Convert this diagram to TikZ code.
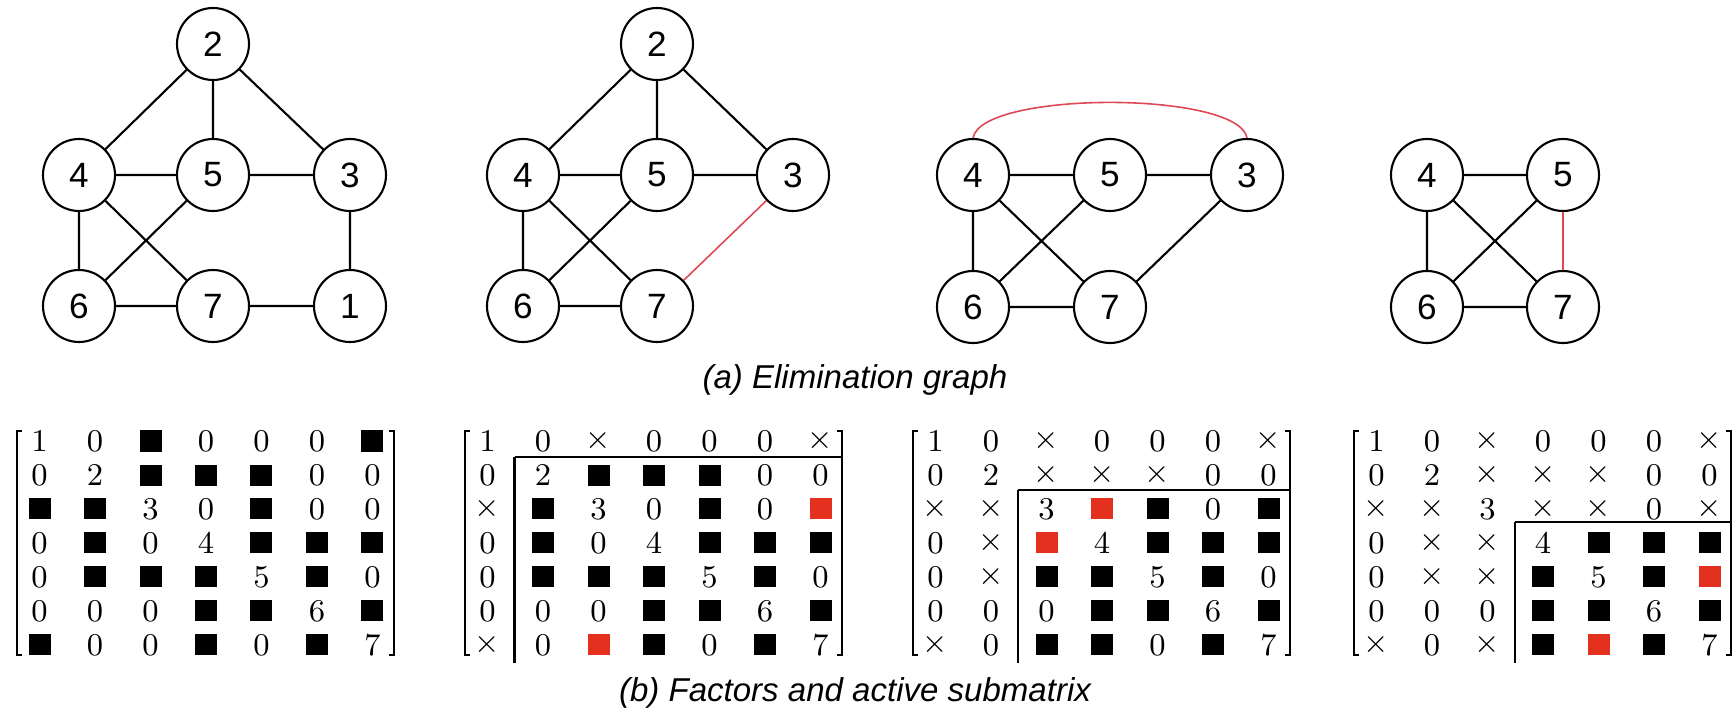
\documentclass[tikz,border=0pt]{standalone}
\usepackage{fontspec}
\setsansfont{Liberation Sans}
\usetikzlibrary{matrix}

\definecolor{fillred}{RGB}{228,48,30}
\definecolor{edgered}{RGB}{222,72,84}
\newcommand{\nzsq}{\rule{0.22cm}{0.21cm}}
\newcommand{\fisq}{\textcolor{fillred}{\rule{0.22cm}{0.21cm}}}
\newcommand{\elx}{$\times$}

\begin{document}
\begin{tikzpicture}[
	vertex/.style={circle, draw, line width=0.6pt, minimum size=0.72cm, inner sep=0pt, font=\sffamily\fontsize{10}{12}\selectfont},
	link/.style={line width=0.6pt},
	fillin/.style={edgered, line width=0.45pt},
	spmat/.style={matrix of nodes, inner sep=0pt, column sep=0.055cm, row sep=0.04cm,
		nodes={anchor=center, minimum width=0.5cm, minimum height=0.3cm, inner sep=0pt, font=\fontsize{9}{10}\selectfont}},
	captext/.style={font=\sffamily\itshape\fontsize{9.4}{11}\selectfont}]
	\useasboundingbox (0,0) rectangle (17.34,7.10);

	% first graph
	\node[vertex] (a2) at (2.13,6.66) {2};
	\node[vertex] (a4) at (0.79,5.35) {4};
	\node[vertex] (a5) at (2.13,5.35) {5};
	\node[vertex] (a3) at (3.50,5.35) {3};
	\node[vertex] (a6) at (0.79,4.04) {6};
	\node[vertex] (a7) at (2.13,4.04) {7};
	\node[vertex] (a1) at (3.50,4.04) {1};
	\draw[link] (a2) -- (a4) (a2) -- (a5) (a2) -- (a3) (a4) -- (a5) (a5) -- (a3)
		(a4) -- (a6) (a4) -- (a7) (a5) -- (a6) (a6) -- (a7) (a7) -- (a1) (a3) -- (a1);

	% node 1 eliminated
	\node[vertex] (b2) at (6.57,6.66) {2};
	\node[vertex] (b4) at (5.23,5.35) {4};
	\node[vertex] (b5) at (6.57,5.35) {5};
	\node[vertex] (b3) at (7.93,5.35) {3};
	\node[vertex] (b6) at (5.23,4.04) {6};
	\node[vertex] (b7) at (6.57,4.04) {7};
	\draw[link] (b2) -- (b4) (b2) -- (b5) (b2) -- (b3) (b4) -- (b5) (b5) -- (b3)
		(b4) -- (b6) (b4) -- (b7) (b5) -- (b6) (b6) -- (b7);
	\draw[fillin] (b7) -- (b3);

	% node 2 eliminated
	\node[vertex] (c4) at (9.73,5.35) {4};
	\node[vertex] (c5) at (11.10,5.35) {5};
	\node[vertex] (c3) at (12.47,5.35) {3};
	\node[vertex] (c6) at (9.73,4.03) {6};
	\node[vertex] (c7) at (11.10,4.03) {7};
	\draw[link] (c4) -- (c5) (c5) -- (c3) (c4) -- (c6) (c4) -- (c7) (c5) -- (c6)
		(c6) -- (c7) (c3) -- (c7);
	\draw[fillin] (c4.north) to[out=80, in=100, looseness=0.45] (c3.north);

	% node 3 eliminated
	\node[vertex] (d4) at (14.27,5.35) {4};
	\node[vertex] (d5) at (15.63,5.35) {5};
	\node[vertex] (d6) at (14.27,4.03) {6};
	\node[vertex] (d7) at (15.63,4.03) {7};
	\draw[link] (d4) -- (d5) (d4) -- (d6) (d4) -- (d7) (d5) -- (d6) (d6) -- (d7);
	\draw[fillin] (d5) -- (d7);

	\node[captext] (capa) at (8.55,3.30) {(a) Elimination graph};

	% factors
	\matrix (ma) [spmat] at (2.06,1.67) {
		1 & 0 & \nzsq & 0 & 0 & 0 & \nzsq \\
		0 & 2 & \nzsq & \nzsq & \nzsq & 0 & 0 \\
		\nzsq & \nzsq & 3 & 0 & \nzsq & 0 & 0 \\
		0 & \nzsq & 0 & 4 & \nzsq & \nzsq & \nzsq \\
		0 & \nzsq & \nzsq & \nzsq & 5 & \nzsq & 0 \\
		0 & 0 & 0 & \nzsq & \nzsq & 6 & \nzsq \\
		\nzsq & 0 & 0 & \nzsq & 0 & \nzsq & 7 \\
	};
	\matrix (mb) [spmat] at (6.54,1.67) {
		1 & 0 & \elx & 0 & 0 & 0 & \elx \\
		0 & 2 & \nzsq & \nzsq & \nzsq & 0 & 0 \\
		\elx & \nzsq & 3 & 0 & \nzsq & 0 & \fisq \\
		0 & \nzsq & 0 & 4 & \nzsq & \nzsq & \nzsq \\
		0 & \nzsq & \nzsq & \nzsq & 5 & \nzsq & 0 \\
		0 & 0 & 0 & \nzsq & \nzsq & 6 & \nzsq \\
		\elx & 0 & \fisq & \nzsq & 0 & \nzsq & 7 \\
	};
	\matrix (mc) [spmat] at (11.02,1.67) {
		1 & 0 & \elx & 0 & 0 & 0 & \elx \\
		0 & 2 & \elx & \elx & \elx & 0 & 0 \\
		\elx & \elx & 3 & \fisq & \nzsq & 0 & \nzsq \\
		0 & \elx & \fisq & 4 & \nzsq & \nzsq & \nzsq \\
		0 & \elx & \nzsq & \nzsq & 5 & \nzsq & 0 \\
		0 & 0 & 0 & \nzsq & \nzsq & 6 & \nzsq \\
		\elx & 0 & \nzsq & \nzsq & 0 & \nzsq & 7 \\
	};
	\matrix (md) [spmat] at (15.43,1.67) {
		1 & 0 & \elx & 0 & 0 & 0 & \elx \\
		0 & 2 & \elx & \elx & \elx & 0 & 0 \\
		\elx & \elx & 3 & \elx & \elx & 0 & \elx \\
		0 & \elx & \elx & 4 & \nzsq & \nzsq & \nzsq \\
		0 & \elx & \elx & \nzsq & 5 & \nzsq & \fisq \\
		0 & 0 & 0 & \nzsq & \nzsq & 6 & \nzsq \\
		\elx & 0 & \elx & \nzsq & \fisq & \nzsq & 7 \\
	};

	% brackets
	\foreach \m in {ma,mb,mc,md} {
		\draw[line width=0.5pt] ([shift={(0.08,-0.06)}]\m.north west) -- ([shift={(0.03,-0.06)}]\m.north west)
			-- ([shift={(0.03,0.06)}]\m.south west) -- ([shift={(0.08,0.06)}]\m.south west);
		\draw[line width=0.5pt] ([shift={(-0.09,-0.06)}]\m.north east) -- ([shift={(-0.04,-0.06)}]\m.north east)
			-- ([shift={(-0.04,0.06)}]\m.south east) -- ([shift={(-0.09,0.06)}]\m.south east);
	}

	% active submatrix
	\draw[link] ([xshift=-0.0275cm]mb-1-2.south west) -- ([shift={(-0.0275,-0.02)}]mb-7-2.south west);
	\draw[link] ([xshift=-0.0275cm]mb-1-2.south west) -- ([xshift=-0.04cm]mb-1-7.south east);
	\draw[link] ([shift={(-0.0275,0.01)}]mc-2-3.south west) -- ([shift={(-0.0275,-0.02)}]mc-7-3.south west);
	\draw[link] ([shift={(-0.0275,0.01)}]mc-2-3.south west) -- ([shift={(-0.04,0.01)}]mc-2-7.south east);
	\draw[link] ([shift={(-0.0275,0.03)}]md-3-4.south west) -- ([shift={(-0.0275,-0.02)}]md-7-4.south west);
	\draw[link] ([shift={(-0.0275,0.03)}]md-3-4.south west) -- ([shift={(-0.04,0.03)}]md-3-7.south east);

	\node[captext] (capb) at (8.55,0.17) {(b) Factors and active submatrix};
\end{tikzpicture}
\end{document}
